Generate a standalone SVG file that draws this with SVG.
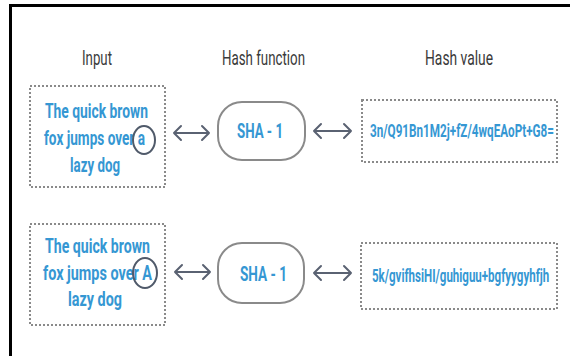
<svg xmlns="http://www.w3.org/2000/svg" width="570" height="356" viewBox="0 0 570 356">
<defs>
<style>
.hdr{font-family:"Roboto","Liberation Sans",sans-serif;font-size:20px;fill:#3a3a3a}
.blue{font-family:"Roboto","Liberation Sans",sans-serif;font-weight:bold;fill:#3597d3}
.in{font-size:20px}
.sha{font-size:20px}
.hv{font-size:18px}
.dot{fill:none;stroke:#8a8a8a;stroke-width:2;stroke-dasharray:2 2}
.pill{fill:#fff;stroke:#8a8a8a;stroke-width:2}
.ring{fill:none;stroke:#505a6a;stroke-width:2}
.arr{fill:none;stroke:#5a6272;stroke-width:2;stroke-linecap:round;stroke-linejoin:round}
</style>
</defs>
<rect width="570" height="356" fill="#fff"/>
<rect x="9" y="4" width="561" height="3" fill="#000"/>
<rect x="9" y="4" width="3" height="352" fill="#000"/>

<g id="headers">
<text class="hdr" x="82" y="65" textLength="30" lengthAdjust="spacingAndGlyphs">Input</text>
<text class="hdr" x="222" y="65" textLength="83" lengthAdjust="spacingAndGlyphs">Hash function</text>
<text class="hdr" x="425" y="65" textLength="68" lengthAdjust="spacingAndGlyphs">Hash value</text>
</g>

<g id="input1">
<rect class="dot" x="30" y="86" width="135" height="101"/>
<text class="blue in" x="45" y="118" textLength="103" lengthAdjust="spacingAndGlyphs">The quick brown</text>
<text class="blue in" x="44" y="145" textLength="101" lengthAdjust="spacingAndGlyphs">fox jumps over a</text>
<text class="blue in" x="70" y="172" textLength="50" lengthAdjust="spacingAndGlyphs">lazy dog</text>
<ellipse class="ring" cx="144" cy="140" rx="11" ry="14"/>
</g>

<g id="sha1">
<rect class="pill" x="218" y="102" width="87" height="58" rx="24"/>
<text class="blue sha" x="237" y="138" textLength="46" lengthAdjust="spacingAndGlyphs">SHA - 1</text>
</g>

<g id="hash1">
<rect class="dot" x="362" y="100" width="195" height="62"/>
<text class="blue hv" transform="translate(370 137) scale(0.65 1)">3n/Q91Bn1M2j+fZ/4wqEAoPt+G8=</text>
</g>

<g id="input2">
<rect class="dot" x="30" y="224" width="135" height="101"/>
<text class="blue in" x="45" y="253" textLength="105" lengthAdjust="spacingAndGlyphs">The quick brown</text>
<text class="blue in" x="43" y="280" textLength="109" lengthAdjust="spacingAndGlyphs">fox jumps over A</text>
<text class="blue in" x="68" y="306" textLength="54" lengthAdjust="spacingAndGlyphs">lazy dog</text>
<ellipse class="ring" cx="145" cy="273" rx="12" ry="15"/>
</g>

<g id="sha2">
<rect class="pill" x="218" y="243" width="86" height="60" rx="24"/>
<text class="blue sha" x="240" y="281" textLength="47" lengthAdjust="spacingAndGlyphs">SHA - 1</text>
</g>

<g id="hash2">
<rect class="dot" x="361" y="243" width="196" height="66"/>
<text class="blue hv" transform="translate(372 282) scale(0.64 1)">5k/gvifhsiHI/guhiguu+bgfyygyhfjh</text>
</g>

<g id="connectors">
<path class="arr" d="M174 133 H209 M181 126 L174 133 L181 140 M202 126 L209 133 L202 140"/>
<path class="arr" d="M314 131 H351 M321 124 L314 131 L321 138 M344 124 L351 131 L344 138"/>
<path class="arr" d="M175 272 H210 M182 265 L175 272 L182 279 M203 265 L210 272 L203 279"/>
<path class="arr" d="M314 273 H351 M321 266 L314 273 L321 280 M344 266 L351 273 L344 280"/>
</g>
</svg>
